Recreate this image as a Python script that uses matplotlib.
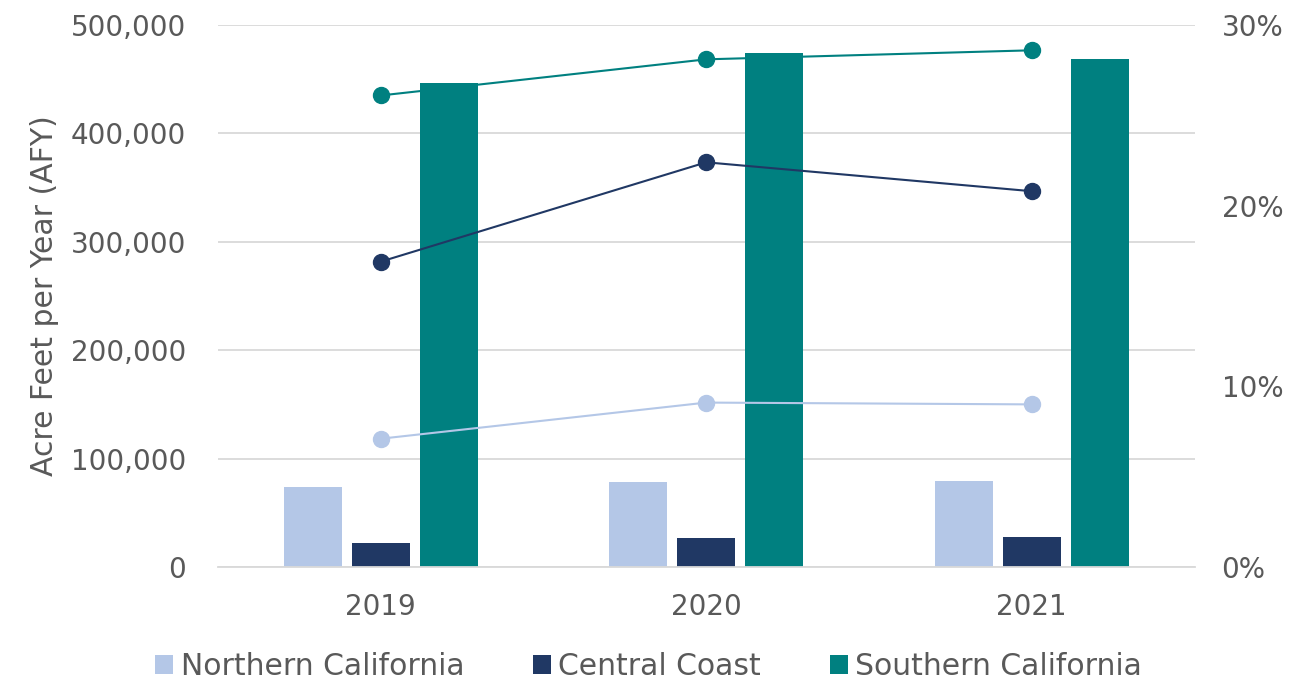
import matplotlib
matplotlib.use("Agg")
import matplotlib.pyplot as plt
import numpy as np
from matplotlib.ticker import FuncFormatter

plt.rcParams['font.family'] = ['DejaVu Sans']

years = ["2019", "2020", "2021"]
regions = ["Northern California", "Central Coast", "Southern California"]
afy_northern = [74000, 78500, 79300]
afy_central = [22000, 26800, 27800]
afy_southern = [446500, 474000, 468500]
pct_northern = [7.1, 9.1, 9.0]
pct_central = [16.9, 22.4, 20.8]
pct_southern = [26.1, 28.1, 28.6]

colors = ["#B4C7E7", "#203864", "#008080"]
text_color = "#595959"
grid_color = "#D9D9D9"

fig = plt.figure(figsize=(12.97, 6.87), dpi=100)
ax = fig.add_axes([0.168, 0.1747, 0.753, 0.7889])
ax2 = ax.twinx()

x = np.arange(len(years))
width = 0.178
step = 0.209
bars_data = [afy_northern, afy_central, afy_southern]
for i, (vals, c, name) in enumerate(zip(bars_data, colors, regions)):
    ax.bar(x + (i - 1) * step, vals, width, color=c, label=name, zorder=2)

for vals, c in zip([pct_northern, pct_central, pct_southern], colors):
    ax2.plot(x, vals, color=c, lw=1.5, marker="o", ms=11.5, zorder=3)

ax.set_xlim(-0.5, 2.5)
ax.set_ylim(0, 500000)
ax.set_yticks(np.arange(0, 500001, 100000))
ax.yaxis.set_major_formatter(FuncFormatter(lambda v, p: f"{int(v):,}"))
ax2.set_ylim(0, 30)
ax2.set_yticks([0, 10, 20, 30])
ax2.yaxis.set_major_formatter(FuncFormatter(lambda v, p: f"{int(v)}%"))

ax.set_xticks(x)
ax.set_xticklabels(years)
ax.grid(axis="y", color=grid_color, lw=1.3, zorder=0)
ax.set_axisbelow(True)

for a in (ax, ax2):
    for s in ["top", "right", "left"]:
        a.spines[s].set_visible(False)
    a.spines["bottom"].set_color(grid_color)
    a.spines["bottom"].set_linewidth(1.3)
    a.tick_params(length=0, labelsize=20, colors=text_color)
ax.tick_params(axis="y", pad=23)
ax.tick_params(axis="x", pad=19)
ax2.tick_params(axis="y", pad=19.5)
ax2.spines["bottom"].set_visible(False)

ax.set_ylabel("Acre Feet per Year (AFY)", fontsize=21.5, color=text_color, labelpad=8)

handles, labels = ax.get_legend_handles_labels()
fig.legend(handles, labels, loc="lower center", bbox_to_anchor=(0.5, -0.03), ncol=3,
           frameon=False, fontsize=21.5, labelcolor=text_color, handlelength=0.6,
           handleheight=0.6, handletextpad=0.25, columnspacing=2.3)

fig.savefig("out.png", dpi=100)
